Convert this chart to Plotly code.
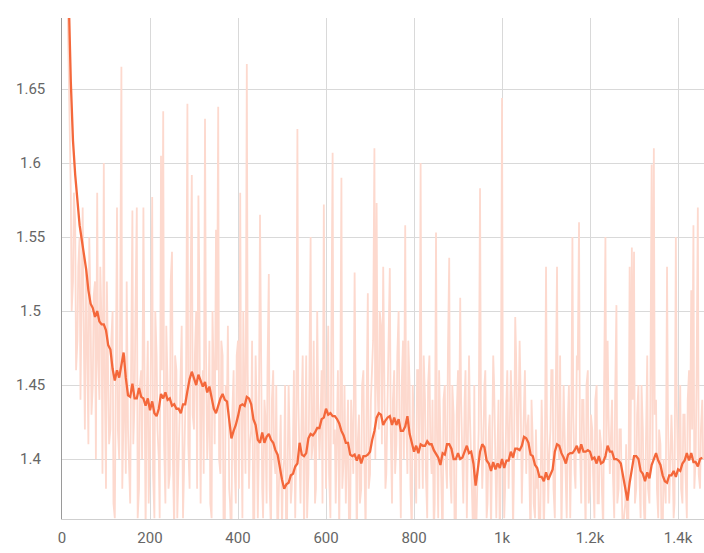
import plotly.graph_objects as go

STEP = 5  # logging interval of the run

# raw values logged at steps 0, 5, 10, ...
raw_values = [
    2.10, 1.92, 1.80, 1.66, 1.58, 1.52, 1.56, 1.48, 1.55, 1.50,
    1.47, 1.53, 1.41, 1.50, 1.45, 1.52, 1.58, 1.44, 1.49, 1.60,
    1.38, 1.47, 1.42, 1.50, 1.36, 1.57, 1.40, 1.665, 1.45, 1.39,
    1.42, 1.37, 1.568, 1.44, 1.57, 1.38, 1.46, 1.57, 1.35, 1.48,
    1.41, 1.577, 1.36, 1.47, 1.40, 1.605, 1.635, 1.37, 1.45, 1.39,
    1.54, 1.35, 1.46, 1.40, 1.48, 1.36, 1.44, 1.64, 1.38, 1.592,
    1.42, 1.50, 1.578, 1.37, 1.46, 1.63, 1.40, 1.48, 1.36, 1.45,
    1.555, 1.638, 1.39, 1.47, 1.35, 1.44, 1.38, 1.34, 1.46, 1.37,
    1.48, 1.58, 1.36, 1.43, 1.667, 1.38, 1.42, 1.34, 1.47, 1.36,
    1.565, 1.38, 1.44, 1.37, 1.525, 1.35, 1.46, 1.39, 1.33, 1.42,
    1.35, 1.40, 1.32, 1.45, 1.37, 1.41, 1.36, 1.623, 1.38, 1.44,
    1.35, 1.47, 1.39, 1.55, 1.41, 1.37, 1.50, 1.40, 1.46, 1.572,
    1.38, 1.49, 1.36, 1.607, 1.42, 1.45, 1.35, 1.59, 1.40, 1.37,
    1.44, 1.36, 1.41, 1.526, 1.34, 1.43, 1.38, 1.46, 1.35, 1.512,
    1.39, 1.47, 1.61, 1.573, 1.42, 1.49, 1.53, 1.38, 1.44, 1.529,
    1.37, 1.46, 1.41, 1.50, 1.36, 1.48, 1.558, 1.39, 1.45, 1.35,
    1.42, 1.37, 1.46, 1.60, 1.38, 1.44, 1.36, 1.47, 1.39, 1.35,
    1.553, 1.36, 1.42, 1.34, 1.45, 1.38, 1.536, 1.37, 1.43, 1.35,
    1.46, 1.509, 1.38, 1.44, 1.36, 1.47, 1.39, 1.34, 1.33, 1.41,
    1.583, 1.38, 1.45, 1.36, 1.42, 1.35, 1.47, 1.37, 1.41, 1.34,
    1.644, 1.36, 1.44, 1.38, 1.46, 1.35, 1.496, 1.40, 1.48, 1.37,
    1.45, 1.39, 1.43, 1.34, 1.41, 1.36, 1.38, 1.33, 1.44, 1.35,
    1.53, 1.37, 1.42, 1.46, 1.36, 1.53, 1.40, 1.35, 1.45, 1.38,
    1.43, 1.36, 1.55, 1.39, 1.47, 1.56, 1.37, 1.44, 1.35, 1.46,
    1.38, 1.42, 1.36, 1.45, 1.37, 1.41, 1.35, 1.55, 1.48, 1.39,
    1.44, 1.36, 1.504, 1.38, 1.42, 1.34, 1.37, 1.33, 1.53, 1.543,
    1.54, 1.38, 1.45, 1.36, 1.42, 1.35, 1.47, 1.37, 1.599, 1.61,
    1.44, 1.36, 1.41, 1.34, 1.38, 1.53, 1.37, 1.43, 1.36, 1.55,
    1.39, 1.45, 1.37, 1.43, 1.36, 1.46, 1.514, 1.558, 1.40, 1.57,
    1.38, 1.44,
]

# raw values logged at steps 2, 7, 12, ... (in between)
raw_values_mid = [
    2.00, 1.86, 1.72, 1.61, 1.50, 1.58, 1.46, 1.53, 1.44, 1.57,
    1.42, 1.49, 1.55, 1.43, 1.51, 1.40, 1.47, 1.53, 1.39, 1.46,
    1.52, 1.41, 1.48, 1.37, 1.46, 1.42, 1.49, 1.38, 1.47, 1.52,
    1.39, 1.46, 1.41, 1.50, 1.36, 1.45, 1.40, 1.48, 1.43, 1.37,
    1.47, 1.39, 1.50, 1.42, 1.36, 1.46, 1.41, 1.49, 1.38, 1.52,
    1.40, 1.47, 1.36, 1.44, 1.49, 1.39, 1.46, 1.41, 1.51, 1.43,
    1.47, 1.38, 1.52, 1.44, 1.39, 1.48, 1.42, 1.37, 1.50, 1.41,
    1.46, 1.40, 1.48, 1.36, 1.45, 1.49, 1.37, 1.43, 1.40, 1.47,
    1.38, 1.44, 1.50, 1.39, 1.46, 1.41, 1.48, 1.36, 1.44, 1.40,
    1.47, 1.36, 1.43, 1.46, 1.38, 1.44, 1.40, 1.45, 1.37, 1.43,
    1.39, 1.45, 1.36, 1.42, 1.38, 1.46, 1.40, 1.44, 1.37, 1.47,
    1.41, 1.36, 1.45, 1.40, 1.48, 1.38, 1.44, 1.42, 1.37, 1.47,
    1.43, 1.39, 1.48, 1.41, 1.37, 1.46, 1.42, 1.38, 1.45, 1.40,
    1.36, 1.44, 1.39, 1.47, 1.41, 1.37, 1.45, 1.40, 1.43, 1.38,
    1.44, 1.48, 1.40, 1.45, 1.50, 1.41, 1.46, 1.39, 1.47, 1.42,
    1.44, 1.39, 1.47, 1.42, 1.45, 1.40, 1.43, 1.48, 1.38, 1.45,
    1.40, 1.46, 1.38, 1.43, 1.47, 1.39, 1.45, 1.41, 1.44, 1.37,
    1.42, 1.46, 1.38, 1.44, 1.40, 1.47, 1.39, 1.45, 1.36, 1.43,
    1.40, 1.44, 1.37, 1.46, 1.41, 1.43, 1.38, 1.45, 1.36, 1.42,
    1.44, 1.40, 1.46, 1.37, 1.43, 1.39, 1.45, 1.36, 1.44, 1.40,
    1.42, 1.38, 1.46, 1.41, 1.44, 1.39, 1.47, 1.42, 1.45, 1.40,
    1.46, 1.42, 1.38, 1.44, 1.37, 1.42, 1.39, 1.36, 1.41, 1.38,
    1.43, 1.40, 1.46, 1.38, 1.44, 1.41, 1.47, 1.39, 1.42, 1.36,
    1.45, 1.40, 1.43, 1.38, 1.46, 1.41, 1.44, 1.39, 1.45, 1.37,
    1.43, 1.39, 1.44, 1.37, 1.42, 1.38, 1.45, 1.40, 1.43, 1.41,
    1.39, 1.44, 1.37, 1.42, 1.38, 1.36, 1.41, 1.35, 1.40, 1.44,
    1.37, 1.43, 1.39, 1.45, 1.37, 1.41, 1.38, 1.44, 1.40, 1.43,
    1.38, 1.42, 1.36, 1.40, 1.37, 1.43, 1.39, 1.41, 1.37, 1.44,
    1.40, 1.38, 1.43, 1.39, 1.44, 1.40, 1.42, 1.38, 1.45, 1.39,
    1.42, 1.40,
]

smoothed_values = [
    1.950, 1.860, 1.780, 1.715, 1.655, 1.615, 1.592, 1.572, 1.558, 1.548,
    1.538, 1.528, 1.514, 1.505, 1.502, 1.496, 1.500, 1.493, 1.491, 1.491,
    1.487, 1.477, 1.474, 1.461, 1.453, 1.460, 1.455, 1.463, 1.472, 1.455,
    1.443, 1.442, 1.451, 1.441, 1.441, 1.448, 1.442, 1.441, 1.436, 1.441,
    1.433, 1.439, 1.431, 1.429, 1.434, 1.444, 1.441, 1.445, 1.440, 1.441,
    1.436, 1.437, 1.434, 1.434, 1.431, 1.437, 1.437, 1.446, 1.454, 1.459,
    1.454, 1.450, 1.457, 1.453, 1.449, 1.452, 1.445, 1.449, 1.441, 1.434,
    1.431, 1.437, 1.441, 1.444, 1.440, 1.439, 1.424, 1.414, 1.419, 1.423,
    1.429, 1.436, 1.437, 1.436, 1.442, 1.441, 1.437, 1.427, 1.423, 1.413,
    1.411, 1.418, 1.411, 1.415, 1.417, 1.413, 1.411, 1.406, 1.403, 1.393,
    1.386, 1.380, 1.383, 1.384, 1.389, 1.390, 1.395, 1.397, 1.411, 1.403,
    1.402, 1.404, 1.414, 1.417, 1.416, 1.418, 1.421, 1.421, 1.427, 1.428,
    1.434, 1.430, 1.431, 1.429, 1.429, 1.427, 1.424, 1.419, 1.416, 1.411,
    1.411, 1.403, 1.402, 1.403, 1.399, 1.403, 1.397, 1.402, 1.402, 1.403,
    1.405, 1.413, 1.419, 1.428, 1.431, 1.430, 1.423, 1.426, 1.428, 1.429,
    1.423, 1.428, 1.423, 1.427, 1.419, 1.419, 1.422, 1.429, 1.417, 1.411,
    1.405, 1.409, 1.404, 1.410, 1.409, 1.409, 1.412, 1.410, 1.410, 1.406,
    1.403, 1.401, 1.396, 1.404, 1.403, 1.410, 1.410, 1.407, 1.400, 1.400,
    1.404, 1.400, 1.401, 1.405, 1.409, 1.404, 1.405, 1.397, 1.382, 1.393,
    1.405, 1.410, 1.408, 1.399, 1.397, 1.392, 1.398, 1.393, 1.397, 1.394,
    1.400, 1.394, 1.399, 1.399, 1.405, 1.401, 1.407, 1.407, 1.406, 1.409,
    1.415, 1.414, 1.411, 1.403, 1.402, 1.396, 1.394, 1.388, 1.388, 1.385,
    1.391, 1.386, 1.389, 1.393, 1.405, 1.410, 1.409, 1.404, 1.401, 1.397,
    1.403, 1.404, 1.404, 1.406, 1.409, 1.404, 1.410, 1.405, 1.405, 1.406,
    1.405, 1.400, 1.401, 1.397, 1.402, 1.397, 1.398, 1.402, 1.409, 1.405,
    1.405, 1.400, 1.400, 1.399, 1.397, 1.389, 1.381, 1.372, 1.384, 1.394,
    1.402, 1.402, 1.400, 1.392, 1.390, 1.385, 1.391, 1.387, 1.396, 1.400,
    1.404, 1.399, 1.396, 1.389, 1.385, 1.384, 1.389, 1.389, 1.392, 1.388,
    1.393, 1.392, 1.397, 1.399, 1.404, 1.399, 1.404, 1.398, 1.398, 1.395,
    1.400, 1.401,
]

steps = list(range(0, STEP * len(raw_values), STEP))
steps_mid = [s + 2 for s in range(0, STEP * len(raw_values_mid), STEP)]

raw_pairs = sorted(list(zip(steps, raw_values)) + list(zip(steps_mid, raw_values_mid)))
raw_x = [p[0] for p in raw_pairs]
raw_y = [p[1] for p in raw_pairs]

x_tick_values = [0, 200, 400, 600, 800, 1000, 1200, 1400]
x_tick_labels = ["0", "200", "400", "600", "800", "1k", "1.2k", "1.4k"]
y_tick_values = [1.4, 1.45, 1.5, 1.55, 1.6, 1.65]
y_tick_labels = ["1.4", "1.45", "1.5", "1.55", "1.6", "1.65"]

fig = go.Figure()
fig.add_trace(go.Scatter(
    x=raw_x, y=raw_y, mode="lines",
    line=dict(color="#fdd9ce", width=1.8),
    hoverinfo="skip", showlegend=False,
))
fig.add_trace(go.Scatter(
    x=steps[:len(smoothed_values)], y=smoothed_values, mode="lines",
    line=dict(color="#f4683b", width=2.3),
    showlegend=False,
))

font = dict(family="Roboto, Liberation Sans, sans-serif", size=15, color="#666666")

# y tick labels are centred in the left gutter (as in the reference)
for v, t in zip(y_tick_values, y_tick_labels):
    fig.add_annotation(
        x=-32 / 642, xref="paper", y=v, yref="y",
        text=t, showarrow=False, xanchor="center", yanchor="middle",
        font=font,
    )

fig.update_layout(
    width=704, height=553,
    margin=dict(l=62, r=0, t=18, b=34),
    paper_bgcolor="white", plot_bgcolor="white",
    font=font,
    xaxis=dict(
        range=[0, 1459], tickvals=x_tick_values, ticktext=x_tick_labels,
        showgrid=True, gridcolor="#d9d9d9", gridwidth=1,
        zeroline=False, showline=True, linecolor="#cfcfcf", linewidth=1,
        ticks="outside", ticklen=5, tickcolor="rgba(0,0,0,0)",
        tickfont=font,
    ),
    yaxis=dict(
        range=[1.3595, 1.698], tickvals=y_tick_values,
        showticklabels=False,
        showgrid=True, gridcolor="#d9d9d9", gridwidth=1,
        zeroline=False, showline=True, linecolor="#9a9a9a", linewidth=1,
    ),
)

fig.write_html(
    "out.html",
    config={"displayModeBar": False},
    post_script="document.body.style.margin='0';document.body.style.overflow='hidden';",
)
